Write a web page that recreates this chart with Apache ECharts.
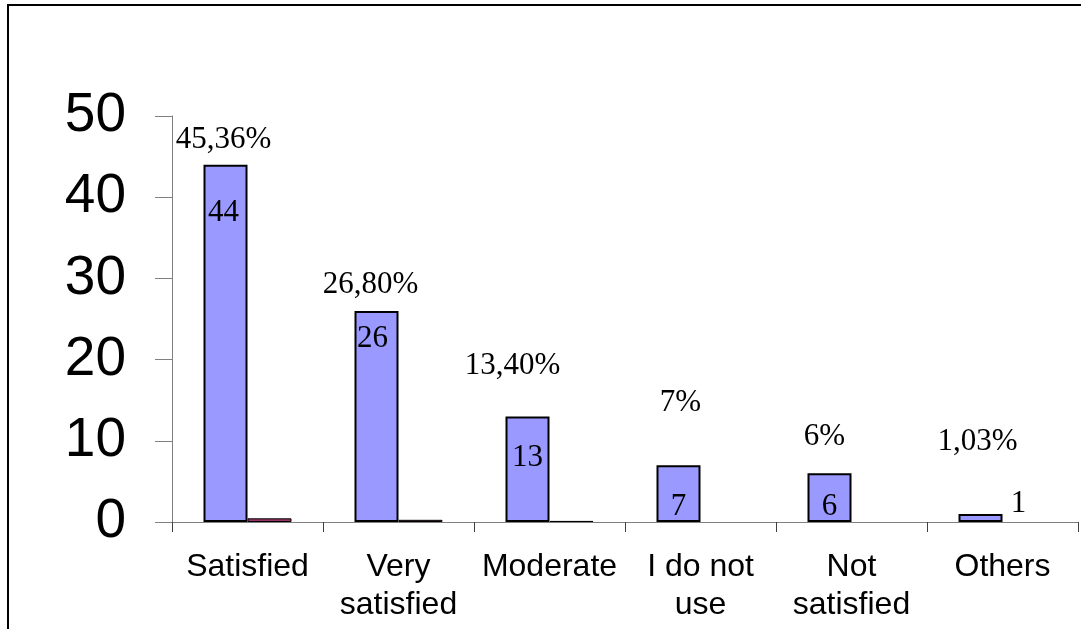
<!DOCTYPE html>
<html>
<head>
<meta charset="utf-8">
<script src="https://cdn.jsdelivr.net/npm/echarts@6/dist/echarts.min.js"></script>
<style>
  html, body { margin: 0; padding: 0; background: #fff; }
  #chart { width: 1081px; height: 629px; }
</style>
</head>
<body>
<div id="chart"></div>
<script>
// Survey answers: number of respondents and their share of the total
const categories = ['Satisfied', 'Very\nsatisfied', 'Moderate', 'I do not\nuse', 'Not\nsatisfied', 'Others'];
const counts = [44, 26, 13, 7, 6, 1];
const shareLabels = ['45,36%', '26,80%', '13,40%', '7%', '6%', '1,03%'];
const shareValues = [0.4536, 0.268, 0.134, null, null, null];
const yTicks = [0, 10, 20, 30, 40, 50];

// Hand-placed label nudges [dx, dy] in pixels, relative to the count bar
const shareLabelNudge = [[-2, -10], [-6, -11], [-15, -36], [2, -47], [-5, -21], [-3, -57]];
const countLabelNudge = [[-2, 33], [-4, 13], [0, 26], [0, 27], [0, 19], [38, -25]];

const BAR_W = 44;
const serif = '"Liberation Serif", "Times New Roman", serif';
const sans = '"Liberation Sans", Arial, sans-serif';

const countData = counts.map((v, i) => ({
  value: v,
  label: {
    show: true,
    position: 'insideTop',
    distance: 0,
    offset: countLabelNudge[i],
    formatter: String(v),
    fontFamily: serif, fontSize: 31, lineHeight: 30, color: '#000'
  }
}));

// Share labels ride on an invisible copy of the count bars drawn on a hidden,
// overlapping category axis; that bar sits at the category centre, so shift
// the labels half a bar to the left to line up with the count bar.
const shareLabelData = counts.map((v, i) => ({
  value: v,
  label: {
    show: true,
    position: 'top',
    distance: 0,
    offset: [shareLabelNudge[i][0] - BAR_W / 2, shareLabelNudge[i][1]],
    formatter: shareLabels[i],
    fontFamily: serif, fontSize: 31, lineHeight: 30, color: '#000'
  }
}));

const chart = echarts.init(document.getElementById('chart'), null, { renderer: 'canvas' });
chart.setOption({
  animation: false,
  backgroundColor: '#fff',
  graphic: [{
    type: 'rect',
    shape: { x: 8, y: 5, width: 1200, height: 800 },
    style: { fill: 'none', stroke: '#000', lineWidth: 2 },
    silent: true, z: 100
  }],
  grid: { left: 172, top: 116, right: 3, bottom: 107 },
  xAxis: [{
    type: 'category',
    data: categories,
    axisLine: { lineStyle: { color: '#808080', width: 1 } },
    axisTick: { show: true, length: 10, lineStyle: { color: '#404040' } },
    axisLabel: {
      interval: 0, margin: 26,
      fontFamily: sans, fontSize: 32, lineHeight: 38, color: '#000'
    }
  }, {
    type: 'category',
    data: categories,
    position: 'bottom',
    show: false
  }],
  yAxis: {
    type: 'value',
    min: yTicks[0], max: yTicks[yTicks.length - 1], interval: 10,
    splitLine: { show: false },
    axisLine: { show: true, lineStyle: { color: '#808080', width: 1 } },
    axisTick: { show: true, length: 17, lineStyle: { color: '#808080' } },
    axisLabel: { margin: 46, fontFamily: sans, fontSize: 55, color: '#000' }
  },
  series: [
    {
      name: 'Respondents',
      type: 'bar',
      xAxisIndex: 0,
      barWidth: BAR_W,
      barGap: '0%',
      data: countData,
      itemStyle: { color: '#9999FF', borderColor: '#000', borderWidth: 2 },
      z: 3
    },
    {
      name: 'Share',
      type: 'bar',
      xAxisIndex: 0,
      barWidth: BAR_W,
      barGap: '0%',
      data: shareValues,
      itemStyle: { color: '#993366', borderColor: '#000', borderWidth: 1 },
      z: 3
    },
    {
      name: 'ShareLabels',
      type: 'bar',
      xAxisIndex: 1,
      barWidth: BAR_W,
      data: shareLabelData,
      itemStyle: { color: 'rgba(0,0,0,0)', borderWidth: 0 },
      silent: true,
      z: 4
    }
  ]
});
</script>
</body>
</html>
